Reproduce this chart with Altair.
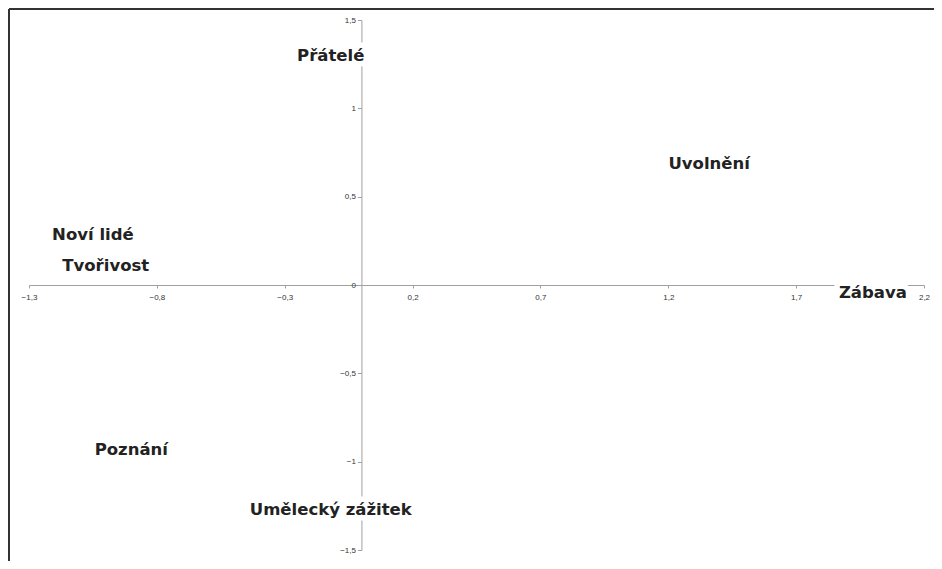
import altair as alt
import pandas as pd

labels = ["Přátelé", "Uvolnění", "Noví lidé", "Tvořivost", "Zábava", "Poznání", "Umělecký zážitek"]
x_vals = [-0.12, 1.36, -1.05, -1.00, 2.00, -0.90, -0.12]
y_vals = [1.31, 0.70, 0.30, 0.12, -0.03, -0.92, -1.26]

x_ticks = [-1.3, -0.8, -0.3, 0.2, 0.7, 1.2, 1.7, 2.2]
y_ticks = [-1.5, -1.0, -0.5, 0.0, 0.5, 1.0, 1.5]
x_domain = [-1.3, 2.2]
y_domain = [-1.5, 1.5]

W, H = 895, 530

df = pd.DataFrame({"label": labels, "x": x_vals, "y": y_vals})

comma = "replace(format(datum.value, '~g'), '.', ',')"

xs = alt.Scale(domain=x_domain, nice=False, zero=False)
ys = alt.Scale(domain=y_domain, nice=False, zero=False)

x_off = -(W * (0 - x_domain[0]) / (x_domain[1] - x_domain[0]))
y_off = -(H * (0 - y_domain[0]) / (y_domain[1] - y_domain[0]))

base = alt.Chart(df)

halo = base.mark_text(
    font="DejaVu Sans", fontWeight="bold", fontSize=16.5, stroke="white",
    strokeWidth=11, strokeJoin="round", fill="white", baseline="middle", align="center", dy=2.5
).encode(
    x=alt.X("x:Q", scale=xs, axis=alt.Axis(
        orient="bottom", offset=y_off, values=x_ticks, labelExpr=comma, title=None,
        grid=False, tickSize=3, labelPadding=5, domainColor="#a0a0a0", tickColor="#a0a0a0",
        labelColor="#333333", labelFontSize=8, labelFont="Liberation Sans",
        labelOverlap=False, labelFlush=False)),
    y=alt.Y("y:Q", scale=ys, axis=alt.Axis(
        orient="left", offset=x_off, values=y_ticks, labelExpr=comma, title=None,
        grid=False, tickSize=4, labelPadding=2, domainColor="#a0a0a0", tickColor="#a0a0a0",
        labelColor="#333333", labelFontSize=8, labelFont="Liberation Sans",
        labelOverlap=False, labelFlush=False)),
    text="label:N",
)

text = base.mark_text(
    font="DejaVu Sans", fontWeight="bold", fontSize=16.5, color="#222222",
    baseline="middle", align="center", dy=2.5
).encode(x=alt.X("x:Q", scale=xs), y=alt.Y("y:Q", scale=ys), text="label:N")

frame_top = base.mark_rule(color="#333333", strokeWidth=2, clip=False).encode(
    x=alt.value(-20), x2=alt.value(W + 15), y=alt.value(-11)
)
frame_left = base.mark_rule(color="#333333", strokeWidth=2, clip=False).encode(
    x=alt.value(-20), y=alt.value(-11), y2=alt.value(H + 15)
)

chart = alt.layer(halo, text, frame_top, frame_left).properties(
    width=W, height=H,
    autosize=alt.AutoSizeParams(type="none"),
    padding={"left": 21, "top": 12, "right": 10, "bottom": 11},
    background="white",
).configure_view(stroke=None)

chart.save("out.html", embed_options={"renderer": "svg", "actions": False})
